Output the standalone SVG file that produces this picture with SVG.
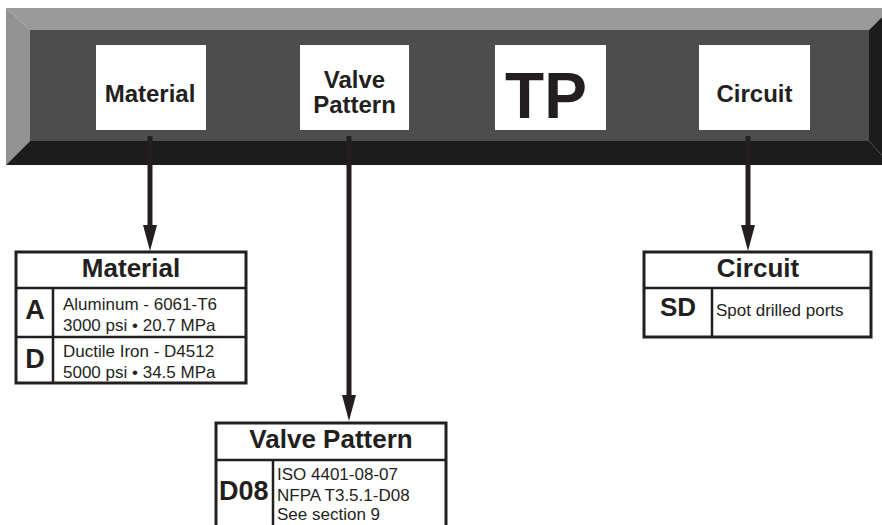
<svg xmlns="http://www.w3.org/2000/svg" width="882" height="525" viewBox="0 0 882 525">
<style>
text{font-family:"Liberation Sans",Arial,Helvetica,sans-serif;fill:#231f20}
.lbl{font-size:24px;font-weight:bold;text-anchor:middle}
.hdr{font-size:26px;font-weight:bold;text-anchor:middle}
.code{font-size:27px;font-weight:bold;text-anchor:middle}
.body{font-size:17px}
.box{fill:#ffffff}
.tbl{fill:#ffffff;stroke:#231f20;stroke-width:3}
.div{stroke:#231f20;stroke-width:2.5;fill:none}
.conn{stroke:#231f20;stroke-width:5;fill:none;marker-end:url(#arr)}
</style>
<defs>
<marker id="arr" markerUnits="userSpaceOnUse" viewBox="0 0 26 14" refX="5" refY="7" markerWidth="26" markerHeight="14" orient="auto">
<path d="M0,0 L26,7 L0,14 z" fill="#231f20"/>
</marker>
</defs>
<rect width="882" height="525" fill="#ffffff"/>
<g id="bar">
<polygon points="6,8 891,8 869,30 30,30" fill="#9a9a9a"/>
<polygon points="6,8 30,30 30,141 6,165" fill="#939393"/>
<polygon points="6,165 30,141 869,141 891,165" fill="#1c1c1c"/>
<polygon points="869,30 891,8 891,165 869,141" fill="#1c1c1c"/>
<rect x="30" y="30" width="839" height="111" fill="#4d4d4d"/>
</g>
<g id="box-material">
<rect class="box" x="96" y="45" width="110" height="85"/>
<text class="lbl" x="150" y="102">Material</text>
</g>
<g id="box-valve">
<rect class="box" x="300" y="45" width="109" height="85"/>
<text class="lbl" x="354.5" y="88">Valve</text>
<text class="lbl" x="354.5" y="113">Pattern</text>
</g>
<g id="box-tp">
<rect class="box" x="495" y="45" width="111" height="85"/>
<text x="546" y="118" style="font-size:64px;font-weight:bold;text-anchor:middle">TP</text>
</g>
<g id="box-circuit">
<rect class="box" x="699" y="45" width="111" height="85"/>
<text class="lbl" x="754.5" y="102">Circuit</text>
</g>
<g id="connectors">
<line class="conn" x1="150" y1="136" x2="150" y2="230"/>
<line class="conn" x1="349" y1="136" x2="349" y2="400"/>
<line class="conn" x1="748" y1="136" x2="748" y2="230"/>
</g>
<g id="table-material">
<rect class="tbl" x="16" y="252" width="230" height="131"/>
<line class="div" x1="16" y1="288" x2="246" y2="288"/>
<line class="div" x1="16" y1="337" x2="246" y2="337"/>
<line class="div" x1="53" y1="288" x2="53" y2="383"/>
<text class="hdr" x="131" y="277">Material</text>
<text class="code" x="35" y="319">A</text>
<text class="body" x="63" y="310">Aluminum - 6061-T6</text>
<text class="body" x="63" y="331">3000 psi • 20.7 MPa</text>
<text class="code" x="35" y="368">D</text>
<text class="body" x="63" y="357">Ductile Iron - D4512</text>
<text class="body" x="63" y="378">5000 psi • 34.5 MPa</text>
</g>
<g id="table-circuit">
<rect class="tbl" x="644" y="252" width="227" height="85"/>
<line class="div" x1="644" y1="288" x2="871" y2="288"/>
<line class="div" x1="712" y1="288" x2="712" y2="337"/>
<text class="hdr" x="758" y="277">Circuit</text>
<text class="code" x="678" y="316" style="font-size:26px">SD</text>
<text class="body" x="716" y="316">Spot drilled ports</text>
</g>
<g id="table-valve">
<rect class="tbl" x="216" y="423" width="230" height="110"/>
<line class="div" x1="216" y1="460" x2="446" y2="460"/>
<line class="div" x1="273" y1="460" x2="273" y2="530"/>
<text class="hdr" x="331" y="448">Valve Pattern</text>
<text x="219" y="500" style="font-size:27px;font-weight:bold">D08</text>
<text class="body" x="277" y="480">ISO 4401-08-07</text>
<text class="body" x="277" y="501">NFPA T3.5.1-D08</text>
<text class="body" x="277" y="520">See section 9</text>
</g>
</svg>
